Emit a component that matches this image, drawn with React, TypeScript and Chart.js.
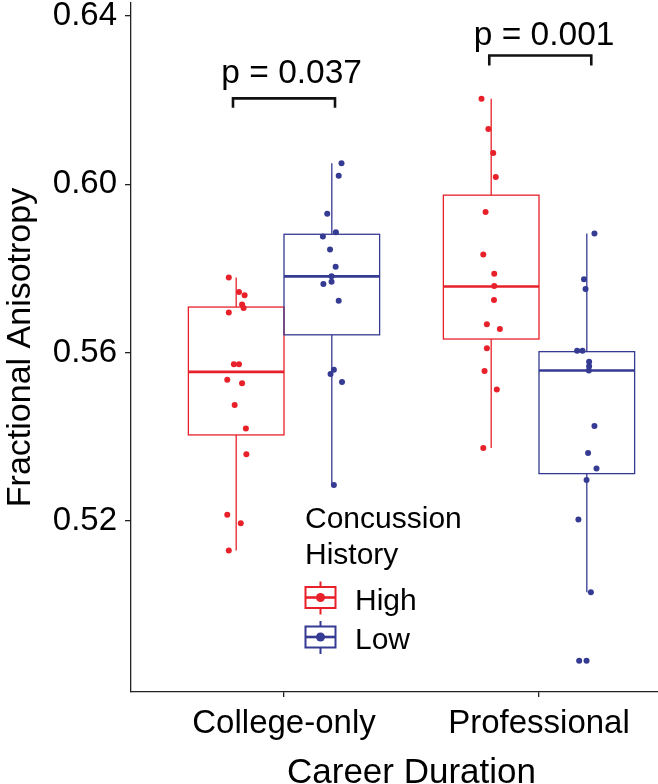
import React, { useEffect, useRef } from "react";
import { Chart, registerables } from "chart.js";

Chart.register(...registerables);

// ---------- data ----------
const categories = ["College-only", "Professional"];
const groupNames = ["High", "Low"];
const yTickValues = [0.52, 0.56, 0.6, 0.64];

// jittered points: values and horizontal jitter (data units) per group
const collegeHighValues = [0.5778, 0.5744, 0.5736, 0.5714, 0.5706, 0.5695, 0.5572, 0.5572, 0.5535, 0.5527, 0.5475, 0.5419, 0.5358, 0.5214, 0.5194, 0.5129];
const collegeHighJitter = [-0.029, 0.011, 0.033, 0.023, 0.029, -0.029, -0.009, 0.011, -0.035, 0.023, -0.006, 0.038, 0.04, -0.035, 0.018, -0.029];

const collegeLowValues = [0.605, 0.602, 0.593, 0.5886, 0.5876, 0.5845, 0.5804, 0.5781, 0.5763, 0.5768, 0.5723, 0.5559, 0.5549, 0.553, 0.5285];
const collegeLowJitter = [0.038, 0.027, -0.018, 0.016, -0.035, -0.007, 0.015, -0.001, -0.033, -0.001, 0.027, 0.008, -0.005, 0.04, 0.008];

const proHighValues = [0.6203, 0.6131, 0.6074, 0.6017, 0.5934, 0.5833, 0.5787, 0.5758, 0.5725, 0.5667, 0.5656, 0.561, 0.5556, 0.5512, 0.5373];
const proHighJitter = [-0.038, -0.011, 0.008, 0.018, -0.022, -0.031, 0.012, 0.012, 0.011, -0.017, 0.034, -0.017, -0.026, 0.022, -0.031];

const proLowValues = [0.5883, 0.5774, 0.5751, 0.5604, 0.5604, 0.5578, 0.5567, 0.5557, 0.5425, 0.5361, 0.5324, 0.5297, 0.5203, 0.503, 0.4867, 0.4867];
const proLowJitter = [0.03, -0.011, -0.005, -0.038, -0.017, 0.009, 0.009, 0.008, 0.03, 0.005, 0.038, -0.001, -0.033, 0.016, -0.03, -0.001];

// box statistics: [lower whisker, Q1, median, Q3, upper whisker]
const collegeHighBox = [0.5129, 0.5404, 0.5554, 0.5708, 0.5778];
const collegeLowBox = [0.5285, 0.5642, 0.5781, 0.5881, 0.605];
const proHighBox = [0.5373, 0.5632, 0.5757, 0.5974, 0.6203];
const proLowBox = [0.503, 0.5312, 0.5557, 0.5602, 0.5883];

// significance annotations
const pLabels = ["p = 0.037", "p = 0.001"];
const bracketLeftX = [0.8, 1.805];
const bracketRightX = [1.2, 2.205];
const bracketY = [0.6204, 0.6306];
const bracketTipY = [0.6182, 0.6282];
const pLabelX = [1.03, 2.02];
const pLabelY = [0.6241, 0.6332];

// ---------- styling ----------
const RED = "#E8202A";
const BLUE = "#353A92";
const FONT = "'Liberation Sans', Arial, Helvetica, sans-serif";
const DODGE = 0.1875;
const HALF_BOX = 0.1875;

const series = [
  { cat: 1, dodge: -DODGE, group: 0, color: RED, values: collegeHighValues, jitter: collegeHighJitter, box: collegeHighBox },
  { cat: 1, dodge: DODGE, group: 1, color: BLUE, values: collegeLowValues, jitter: collegeLowJitter, box: collegeLowBox },
  { cat: 2, dodge: -DODGE, group: 0, color: RED, values: proHighValues, jitter: proHighJitter, box: proHighBox },
  { cat: 2, dodge: DODGE, group: 1, color: BLUE, values: proLowValues, jitter: proLowJitter, box: proLowBox },
];

const CANVAS_W = 700;
const CANVAS_H = 799;
const Y_AXIS_W = 131;
const PLOT_BOTTOM = 692;

const boxPlugin = {
  id: "boxes",
  beforeDatasetsDraw(chart: any) {
    const { ctx } = chart;
    const x = chart.scales.x;
    const y = chart.scales.y;
    const line = (x1: number, y1: number, x2: number, y2: number) => {
      ctx.beginPath();
      ctx.moveTo(x1, y1);
      ctx.lineTo(x2, y2);
      ctx.stroke();
    };
    series.forEach((s) => {
      const [lo, q1, med, q3, hi] = s.box;
      const c = s.cat + s.dodge;
      const xl = x.getPixelForValue(c - HALF_BOX);
      const xr = x.getPixelForValue(c + HALF_BOX);
      const xc = x.getPixelForValue(c);
      ctx.save();
      ctx.strokeStyle = s.color;
      ctx.lineWidth = 1.3;
      line(xc, y.getPixelForValue(hi), xc, y.getPixelForValue(q3));
      line(xc, y.getPixelForValue(q1), xc, y.getPixelForValue(lo));
      ctx.strokeRect(xl, y.getPixelForValue(q3), xr - xl, y.getPixelForValue(q1) - y.getPixelForValue(q3));
      ctx.lineWidth = 2.6;
      line(xl, y.getPixelForValue(med), xr, y.getPixelForValue(med));
      ctx.restore();
    });
  },
  afterDraw(chart: any) {
    const { ctx } = chart;
    const x = chart.scales.x;
    const y = chart.scales.y;
    // significance brackets
    ctx.save();
    ctx.strokeStyle = "#111";
    ctx.lineWidth = 2.6;
    ctx.lineCap = "butt";
    pLabels.forEach((label, i) => {
      const x1 = x.getPixelForValue(bracketLeftX[i]);
      const x2 = x.getPixelForValue(bracketRightX[i]);
      const yb = y.getPixelForValue(bracketY[i]);
      const yt = y.getPixelForValue(bracketTipY[i]);
      ctx.beginPath();
      ctx.moveTo(x1, yt);
      ctx.lineTo(x1, yb);
      ctx.lineTo(x2, yb);
      ctx.lineTo(x2, yt);
      ctx.stroke();
      ctx.fillStyle = "#000";
      ctx.font = `33.5px ${FONT}`;
      ctx.textAlign = "center";
      ctx.textBaseline = "alphabetic";
      ctx.fillText(label, x.getPixelForValue(pLabelX[i]), y.getPixelForValue(pLabelY[i]));
    });
    ctx.restore();

    // legend
    const left = chart.chartArea.left;
    ctx.save();
    ctx.fillStyle = "#000";
    ctx.font = `30px ${FONT}`;
    ctx.textAlign = "left";
    ctx.textBaseline = "alphabetic";
    ctx.fillText("Concussion", left + 174, 528);
    ctx.fillText("History", left + 174, 564);
    const keyCenters = [597.5, 637];
    groupNames.forEach((name, i) => {
      const color = i === 0 ? RED : BLUE;
      const cx = left + 189.5;
      const cy = keyCenters[i];
      ctx.strokeStyle = color;
      ctx.fillStyle = color;
      ctx.lineWidth = 2;
      ctx.beginPath();
      ctx.moveTo(cx, cy - 16);
      ctx.lineTo(cx, cy - 10.5);
      ctx.moveTo(cx, cy + 10.5);
      ctx.lineTo(cx, cy + 17);
      ctx.stroke();
      ctx.strokeRect(cx - 15, cy - 10.5, 30, 21);
      ctx.lineWidth = 2.6;
      ctx.beginPath();
      ctx.moveTo(cx - 15, cy);
      ctx.lineTo(cx + 15, cy);
      ctx.stroke();
      ctx.beginPath();
      ctx.arc(cx, cy, 4.5, 0, Math.PI * 2);
      ctx.fill();
      ctx.fillStyle = "#000";
      ctx.font = `30px ${FONT}`;
      ctx.fillText(name, left + 224, cy + 12);
    });
    ctx.restore();
  },
};

export default function App() {
  const ref = useRef<HTMLCanvasElement | null>(null);

  useEffect(() => {
    document.body.style.overflow = "hidden";
    const canvas = ref.current;
    if (!canvas) return;
    const datasets = series.map((s) => ({
      label: groupNames[s.group],
      data: s.values.map((v, i) => ({ x: s.cat + s.dodge + s.jitter[i], y: v })),
      backgroundColor: s.color,
      borderWidth: 0,
      pointRadius: 3,
      pointHoverRadius: 3,
      showLine: false,
    }));

    const chart = new Chart(canvas, {
      type: "scatter",
      data: { datasets },
      plugins: [boxPlugin],
      options: {
        animation: false,
        responsive: false,
        devicePixelRatio: 1,
        layout: { padding: { left: 0, top: 0, right: 8, bottom: 0 } },
        plugins: { legend: { display: false }, tooltip: { enabled: false } },
        scales: {
          x: {
            type: "linear",
            min: 0.4,
            max: 2.6,
            afterBuildTicks: (axis: any) => {
              axis.ticks = categories.map((_, i) => ({ value: i + 1 }));
            },
            afterFit: (axis: any) => {
              axis.height = CANVAS_H - PLOT_BOTTOM;
              axis.paddingLeft = 0;
              axis.paddingRight = 0;
            },
            ticks: {
              callback: (v: any) => categories[Math.round(v) - 1] ?? "",
              color: "#000",
              font: { family: FONT, size: 33 },
              padding: 7,
              maxRotation: 0,
              autoSkip: false,
            },
            grid: { drawOnChartArea: false, drawTicks: true, tickLength: 5, color: "#222", lineWidth: 1.3 },
            border: { display: true, color: "#222", width: 1.3 },
            title: { display: true, text: "Career Duration", color: "#000", font: { family: FONT, size: 35 }, padding: { top: 4, bottom: 5 } },
          },
          y: {
            type: "linear",
            min: 0.47929,
            max: 0.64308,
            afterBuildTicks: (axis: any) => {
              axis.ticks = yTickValues.map((v) => ({ value: v }));
            },
            afterFit: (axis: any) => {
              axis.width = Y_AXIS_W;
              axis.paddingTop = 0;
              axis.paddingBottom = 0;
            },
            ticks: {
              callback: (v: any) => Number(v).toFixed(2),
              color: "#000",
              font: { family: FONT, size: 33 },
              padding: 8,
            },
            grid: { drawOnChartArea: false, drawTicks: true, tickLength: 6, color: "#222", lineWidth: 1.3 },
            border: { display: true, color: "#222", width: 1.3 },
            title: { display: true, text: "Fractional Anisotropy", color: "#000", font: { family: FONT, size: 34 }, padding: { top: 0, bottom: 0 } },
          },
        },
      },
    } as any);
    return () => chart.destroy();
  }, []);

  return (
    <div style={{ position: "fixed", left: 0, top: 0, width: CANVAS_W, height: CANVAS_H, background: "#fff" }}>
      <canvas ref={ref} width={CANVAS_W} height={CANVAS_H} style={{ display: "block", width: CANVAS_W, height: CANVAS_H }} />
    </div>
  );
}
